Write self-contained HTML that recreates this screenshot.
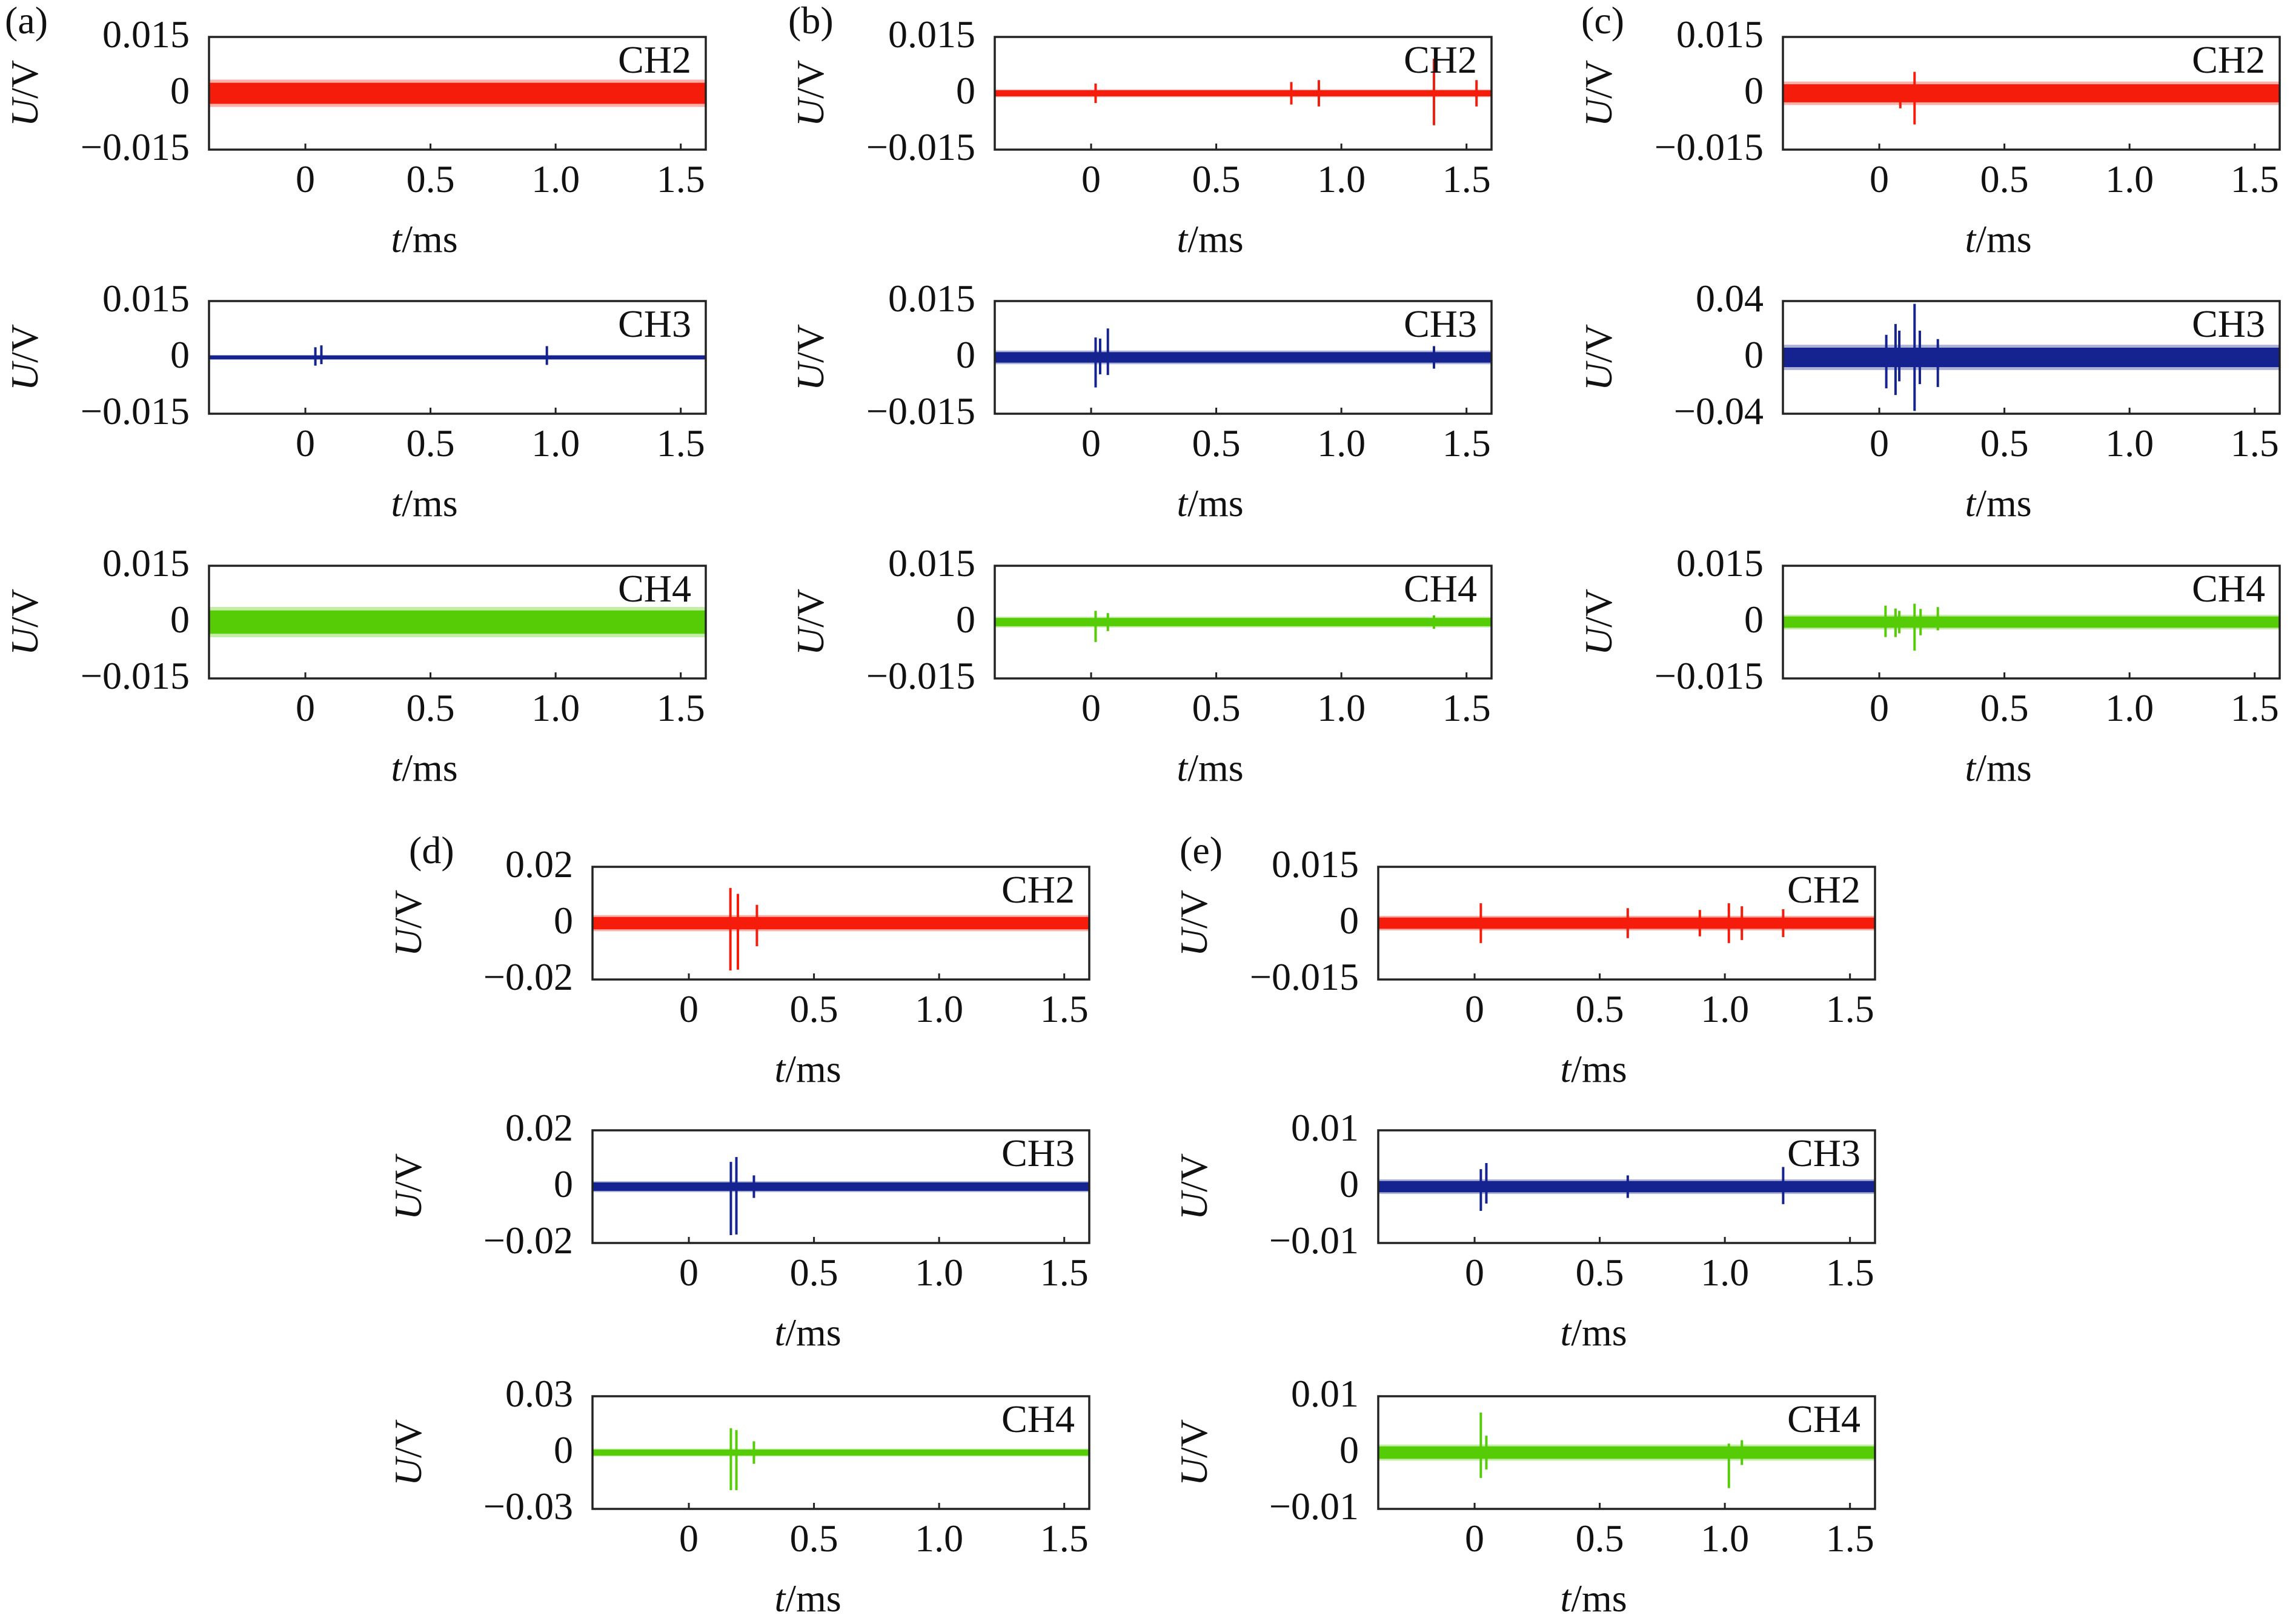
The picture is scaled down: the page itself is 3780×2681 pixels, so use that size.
<!DOCTYPE html>
<html><head><meta charset="utf-8"><style>
html,body{margin:0;padding:0;background:#fff}
svg{display:block}
text{font-family:"Liberation Serif","Times New Roman",serif;fill:#111}
</style></head><body>
<svg id="fig" width="3780" height="2681" viewBox="0 0 3780 2681" xmlns="http://www.w3.org/2000/svg"></svg>
<script>
// ---- data ----
const panelLetters = ['a','b','c','d','e'];
const channels = ['CH2','CH3','CH4'];
const xTicks = [0, 0.5, 1.0, 1.5];
const xTickLabels = ['0','0.5','1.0','1.5'];
const xDomain = [-0.385, 1.6];
const yRangeA = [0.015, 0.015, 0.015];
const yRangeB = [0.015, 0.015, 0.015];
const yRangeC = [0.015, 0.04, 0.015];
const yRangeD = [0.02, 0.02, 0.03];
const yRangeE = [0.015, 0.01, 0.01];
const yTickLabelsA = [['0.015','0','\u22120.015'],['0.015','0','\u22120.015'],['0.015','0','\u22120.015']];
const yTickLabelsB = [['0.015','0','\u22120.015'],['0.015','0','\u22120.015'],['0.015','0','\u22120.015']];
const yTickLabelsC = [['0.015','0','\u22120.015'],['0.04','0','\u22120.04'],['0.015','0','\u22120.015']];
const yTickLabelsD = [['0.02','0','\u22120.02'],['0.02','0','\u22120.02'],['0.03','0','\u22120.03']];
const yTickLabelsE = [['0.015','0','\u22120.015'],['0.01','0','\u22120.01'],['0.01','0','\u22120.01']];
const noiseA = [0.0028, 0.0005, 0.0031];
const noiseB = [0.0008, 0.0014, 0.0011];
const noiseC = [0.0024, 0.0069, 0.0015];
const noiseD = [0.0022, 0.0015, 0.0016];
const noiseE = [0.0015, 0.0010, 0.0011];
const spikesA = [
  [],
  [[0.04,0.0027,-0.0022],[0.064,0.0032,-0.0018],[0.965,0.003,-0.002]],
  []
];
const spikesB = [
  [[0.018,0.0026,-0.0026],[0.80,0.0030,-0.0030],[0.91,0.0035,-0.0035],[1.37,0.0092,-0.0085],[1.54,0.0035,-0.0035]],
  [[0.018,0.0053,-0.008],[0.036,0.005,-0.0045],[0.067,0.0077,-0.0047],[1.37,0.003,-0.003]],
  [[0.018,0.003,-0.0053],[0.067,0.0024,-0.0024],[1.37,0.0018,-0.0018]]
];
const spikesC = [
  [[0.084,0.002,-0.004],[0.141,0.0057,-0.0083]],
  [[0.028,0.016,-0.022],[0.065,0.0237,-0.0267],[0.08,0.019,-0.017],[0.141,0.038,-0.038],[0.162,0.019,-0.019],[0.234,0.013,-0.021]],
  [[0.025,0.0044,-0.004],[0.065,0.0036,-0.004],[0.08,0.003,-0.003],[0.141,0.0049,-0.0076],[0.165,0.0035,-0.0035],[0.234,0.004,-0.0022]]
];
const spikesD = [
  [[0.166,0.0125,-0.0168],[0.196,0.0104,-0.0165],[0.272,0.0065,-0.0082]],
  [[0.168,0.0088,-0.0172],[0.19,0.0105,-0.017],[0.26,0.004,-0.004]],
  [[0.168,0.013,-0.02],[0.19,0.012,-0.02],[0.26,0.006,-0.006]]
];
const spikesE = [
  [[0.025,0.0053,-0.0053],[0.612,0.004,-0.004],[0.90,0.0035,-0.0035],[1.016,0.0053,-0.0053],[1.068,0.0045,-0.0045],[1.233,0.0037,-0.0037]],
  [[0.025,0.0031,-0.0043],[0.047,0.0042,-0.003],[0.612,0.002,-0.002],[1.233,0.0035,-0.0031]],
  [[0.025,0.0071,-0.0045],[0.047,0.003,-0.003],[1.016,0.0016,-0.0063],[1.068,0.0022,-0.0022]]
];
const yRanges = [yRangeA,yRangeB,yRangeC,yRangeD,yRangeE];
const yLabels = [yTickLabelsA,yTickLabelsB,yTickLabelsC,yTickLabelsD,yTickLabelsE];
const noises = [noiseA,noiseB,noiseC,noiseD,noiseE];
const spikes = [spikesA,spikesB,spikesC,spikesD,spikesE];

// ---- layout ----
const boxLeft = [345,1642,2943,978,2275];
const rowTops = [[61,497,934],[61,497,934],[61,497,934],[1431,1866,2305],[1431,1866,2305]];
const letterOffset = [-337,-341,-333,-303,-328];
const W = 820, H = 186;
const colors = ['#f51c0c','#14238f','#55cc06'];

const svg = document.getElementById('fig');
const NS = 'http://www.w3.org/2000/svg';
function mk(tag, attrs, parent){
  const e = document.createElementNS(NS, tag);
  for (const k in attrs) e.setAttribute(k, attrs[k]);
  (parent||svg).appendChild(e);
  return e;
}

panelLetters.forEach((L, p) => {
  const g = mk('g', {});
  
  
  const x0 = boxLeft[p];
  const lab = mk('text', {x: x0 + letterOffset[p], y: rowTops[p][0] - 6, 'font-size': 64}, g);
  lab.textContent = '(' + L + ')';
  
  
  channels.forEach((ch, r) => {
    const top = rowTops[p][r];
    const bottom = top + H;
    const mid = top + H / 2;
    const R = yRanges[p][r];
    const xs = t => x0 + (t - xDomain[0]) / (xDomain[1] - xDomain[0]) * W;
    const ys = v => mid - v / R * (H / 2);
    const sg = mk('g', {}, g);
    
    
    const cid = 'clip-' + L + r;
    const cp = mk('clipPath', {id: cid}, sg);
    mk('rect', {x: x0, y: top, width: W, height: H}, cp);
    const dg = mk('g', {'clip-path': 'url(#' + cid + ')'}, sg);
    const a = noises[p][r];
    const fr = mk('rect', {x: xs(xDomain[0]), y: ys(a * 1.3), width: xs(xDomain[1]) - xs(xDomain[0]), height: ys(-a * 1.3) - ys(a * 1.3), fill: colors[r], opacity: 0.35}, dg);
    
    
    const band = mk('rect', {x: xs(xDomain[0]), y: ys(a), width: xs(xDomain[1]) - xs(xDomain[0]), height: Math.max(3, ys(-a) - ys(a)), fill: colors[r]}, dg);
    
    
    spikes[p][r].forEach(s => {
      const ln = mk('line', {x1: xs(s[0]), x2: xs(s[0]), y1: ys(s[1]), y2: ys(s[2]), stroke: colors[r], 'stroke-width': 4}, dg);
      
      
    });
    const bx = mk('rect', {x: x0, y: top, width: W, height: H, fill: 'none', stroke: '#222', 'stroke-width': 3.5}, sg);
    
    
    xTicks.forEach((t, i) => {
      const tk = mk('line', {x1: xs(t), x2: xs(t), y1: bottom, y2: bottom - 10, stroke: '#222', 'stroke-width': 3}, sg);
      
      
      const tl = mk('text', {x: xs(t), y: bottom + 70, 'font-size': 64, 'text-anchor': 'middle'}, sg);
      tl.textContent = xTickLabels[i];
      
      
    });
    [top, mid, bottom].forEach((yy, i) => {
      const yl = mk('text', {x: x0 - 32, y: yy + 17, 'font-size': 64, 'text-anchor': 'end'}, sg);
      yl.textContent = yLabels[p][r][i];
      
      
    });
    const cl = mk('text', {x: x0 + W - 24, y: top + 59, 'font-size': 64, 'text-anchor': 'end'}, sg);
    cl.textContent = ch;
    
    
    const xt = mk('text', {x: xs(0.5) - 10, y: bottom + 169, 'font-size': 64, 'text-anchor': 'middle'}, sg);
    xt.innerHTML = '<tspan font-style="italic">t</tspan>/ms';
    
    
    const yx = x0 - 305 + 22, yy = mid;
    const yt = mk('text', {x: yx, y: yy, 'font-size': 64, 'text-anchor': 'middle', transform: 'rotate(-90 ' + yx + ' ' + yy + ')'}, sg);
    yt.innerHTML = '<tspan font-style="italic">U</tspan>/V';
    
    
  });
});
</script>
</body></html>
